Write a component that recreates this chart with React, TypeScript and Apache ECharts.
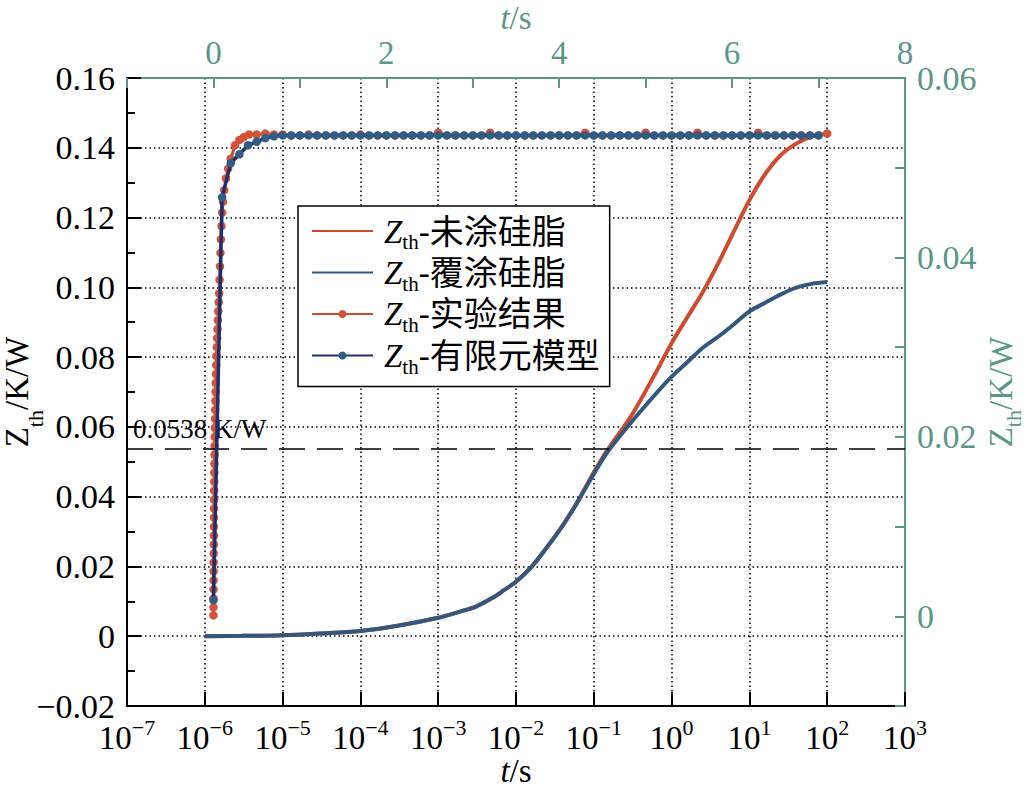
import React, { useEffect, useRef } from 'react';
import * as echarts from 'echarts';

// ---------- data ----------
// bottom log-time axis (s) / left axis (K/W)
const logTime = [1e-6, 3e-6, 1e-5, 3e-5, 1e-4, 3e-4, 1e-3, 2e-3, 3e-3, 5e-3, 7e-3, 1e-2, 1.6e-2, 2.5e-2, 4e-2, 6e-2, 0.1, 0.15, 0.3, 0.6, 1, 1.6, 2.5, 4, 6, 10, 16, 25, 40, 63, 100];
const zthUncoated = [0, 0.0001, 0.0003, 0.0008, 0.0015, 0.003, 0.0053, 0.0072, 0.0084, 0.011, 0.0132, 0.0156, 0.02, 0.0255, 0.0318, 0.038, 0.047, 0.0534, 0.063, 0.0748, 0.084, 0.0915, 0.0985, 0.107, 0.115, 0.125, 0.1325, 0.1378, 0.1412, 0.1432, 0.144];
const zthCoated = [0, 0.0001, 0.0003, 0.0008, 0.0015, 0.003, 0.0053, 0.0072, 0.0084, 0.011, 0.0132, 0.0156, 0.02, 0.0255, 0.0318, 0.038, 0.0465, 0.0528, 0.0612, 0.069, 0.0744, 0.0786, 0.0826, 0.0859, 0.089, 0.0931, 0.0956, 0.0979, 0.0999, 0.101, 0.1015];

// top linear-time axis (s) / right axis (K/W)
const expTime = [0, 0.0004, 0.0008, 0.0012, 0.0017, 0.0022, 0.0028, 0.0034, 0.004, 0.0047, 0.0054, 0.0062, 0.007, 0.0078, 0.0087, 0.0096, 0.0105, 0.0115, 0.0125, 0.0136, 0.015, 0.0165, 0.0182, 0.02, 0.022, 0.0242, 0.0265, 0.029, 0.032, 0.0355, 0.039, 0.043, 0.047, 0.0515, 0.056, 0.061, 0.066, 0.071, 0.076, 0.081, 0.086, 0.093, 0.101, 0.11, 0.125, 0.145, 0.17, 0.2, 0.25, 0.3, 0.35, 0.41,
  0.5, 0.6, 0.7, 0.8, 0.9, 1.0, 1.1, 1.2, 1.3, 1.4, 1.5, 1.6, 1.7, 1.8, 1.9, 2.0, 2.1, 2.2, 2.3, 2.4, 2.5, 2.6, 2.7, 2.8, 2.9, 3.0, 3.1, 3.2, 3.3, 3.4, 3.5, 3.6, 3.7, 3.8, 3.9, 4.0, 4.1, 4.2, 4.3, 4.4, 4.5, 4.6, 4.7, 4.8, 4.9, 5.0, 5.1, 5.2, 5.3, 5.4, 5.5, 5.6, 5.7, 5.8, 5.9, 6.0, 6.1, 6.2, 6.3, 6.4, 6.5, 6.6, 6.7, 6.8, 6.9, 7.0, 7.1];
const expZth = [0.0001, 0.001, 0.002, 0.003, 0.004, 0.005, 0.006, 0.007, 0.008, 0.009, 0.01, 0.011, 0.012, 0.013, 0.014, 0.015, 0.016, 0.017, 0.018, 0.019, 0.02, 0.021, 0.022, 0.023, 0.024, 0.025, 0.026, 0.027, 0.028, 0.029, 0.03, 0.031, 0.032, 0.033, 0.034, 0.035, 0.036, 0.0375, 0.039, 0.0405, 0.042, 0.0435, 0.045, 0.0462, 0.0475, 0.0488, 0.0499, 0.051, 0.0525, 0.0531, 0.0534, 0.0537,
  0.0537, 0.0538, 0.0537, 0.0537, 0.0536, 0.0536, 0.0537, 0.0536, 0.0536, 0.0536, 0.0536, 0.0536, 0.0537, 0.0536, 0.0536, 0.0536, 0.0536, 0.0536, 0.0536, 0.0536, 0.0536, 0.0539, 0.0536, 0.0536, 0.0536, 0.0536, 0.0536, 0.0539, 0.0536, 0.0536, 0.0536, 0.0536, 0.0536, 0.0536, 0.0536, 0.0536, 0.0536, 0.0536, 0.0539, 0.0536, 0.0536, 0.0536, 0.0536, 0.0536, 0.0536, 0.0539, 0.0536, 0.0536, 0.0536, 0.0536, 0.0536, 0.0539, 0.0536, 0.0536, 0.0536, 0.0536, 0.0536, 0.0536, 0.0539, 0.0536, 0.0536, 0.0536, 0.0536, 0.0536, 0.0536, 0.0536, 0.0538];
const femTime = [0, 0.1, 0.2, 0.3, 0.4, 0.5, 0.6, 0.7, 0.8, 0.9, 1.0, 1.1, 1.2, 1.3, 1.4, 1.5, 1.6, 1.7, 1.8, 1.9, 2.0, 2.1, 2.2, 2.3, 2.4, 2.5, 2.6, 2.7, 2.8, 2.9, 3.0, 3.1, 3.2, 3.3, 3.4, 3.5, 3.6, 3.7, 3.8, 3.9, 4.0, 4.1, 4.2, 4.3, 4.4, 4.5, 4.6, 4.7, 4.8, 4.9, 5.0, 5.1, 5.2, 5.3, 5.4, 5.5, 5.6, 5.7, 5.8, 5.9, 6.0, 6.1, 6.2, 6.3, 6.4, 6.5, 6.6, 6.7, 6.8, 6.9, 7.0];
const femZth = [0.0018, 0.0467, 0.0505, 0.0515, 0.0525, 0.0529, 0.0533, 0.0535, 0.0536, 0.0536, 0.0536, 0.0536, 0.0536, 0.0536, 0.0536, 0.0536, 0.0536, 0.0536, 0.0536, 0.0536, 0.0536, 0.0536, 0.0536, 0.0536, 0.0536, 0.0536, 0.0536, 0.0536, 0.0536, 0.0536, 0.0536, 0.0536, 0.0536, 0.0536, 0.0536, 0.0536, 0.0536, 0.0536, 0.0536, 0.0536, 0.0536, 0.0536, 0.0536, 0.0536, 0.0536, 0.0536, 0.0536, 0.0536, 0.0536, 0.0536, 0.0536, 0.0536, 0.0536, 0.0536, 0.0536, 0.0536, 0.0536, 0.0536, 0.0536, 0.0536, 0.0536, 0.0536, 0.0536, 0.0536, 0.0536, 0.0536, 0.0536, 0.0536, 0.0536, 0.0536, 0.0536];

const steadyValue = 0.0538;
const seriesNames = ['Zth-未涂硅脂', 'Zth-覆涂硅脂', 'Zth-实验结果', 'Zth-有限元模型'];

// ---------- style ----------
const SERIF = '"Liberation Serif", "Times New Roman", "Noto Sans CJK SC", serif';
const TEAL = '#5a9788';
const RED = '#cf4b30';
const BLUE = '#33587e';
const DOT_BLUE = '#2f5d86';
const NAVY = '#1d2f6c';

const fmtLeft = (v: number) => {
  const r = Math.round(v * 100);
  if (r === 0) return '0';
  return r < 0 ? '\u2212' + (-r / 100).toFixed(2) : (r / 100).toFixed(2);
};
const fmtRight = (v: number) => {
  const r = Math.round(v * 100);
  if (r < 0 || r % 2 !== 0) return '';
  return r === 0 ? '0' : (r / 100).toFixed(2);
};
const fmtLog = (v: number) => {
  const e = Math.round(Math.log10(v));
  return `{b|10}{s|${e < 0 ? '\u2212' + -e : e}}`;
};

const zthRich = (color: string, subPad: number) => ({
  z: { fontFamily: SERIF, fontSize: 33, lineHeight: 32, verticalAlign: 'top', color },
  s: { fontFamily: SERIF, fontSize: 22, lineHeight: 21, verticalAlign: 'top', padding: [subPad, 0, 0, 0], color },
  n: { fontFamily: SERIF, fontSize: 33, lineHeight: 32, verticalAlign: 'top', color },
});
const tsRich = (color: string, lh: number) => ({
  i: { fontFamily: SERIF, fontStyle: 'italic', fontSize: 33, lineHeight: lh, color },
  n: { fontFamily: SERIF, fontSize: 33, lineHeight: lh, color },
});

function buildOption() {
  return {
    animation: false,
    backgroundColor: '#ffffff',
    grid: { left: 127, top: 78, width: 778, height: 628, containLabel: false, outerBoundsMode: 'none' },
    legend: {
      data: [
        { name: seriesNames[0], itemStyle: { opacity: 0 } },
        { name: seriesNames[1], itemStyle: { opacity: 0 } },
        { name: seriesNames[2] },
        { name: seriesNames[3] },
      ],
      orient: 'vertical',
      left: 298,
      top: 206,
      itemWidth: 61,
      itemHeight: 10,
      itemGap: -1.5,
      padding: [9, 10, 4, 13],
      backgroundColor: '#ffffff',
      borderColor: '#000000',
      borderWidth: 1.5,
      borderRadius: 0,
      formatter: (name: string) => `{z|Z}{s|th}{h|-}{t|${name.slice(4)}}`,
      textStyle: {
        rich: {
          z: { fontFamily: SERIF, fontStyle: 'italic', fontSize: 33, lineHeight: 32, verticalAlign: 'top', padding: [0, 0, 0, 6], color: '#000' },
          s: { fontFamily: SERIF, fontSize: 21, lineHeight: 21, verticalAlign: 'top', padding: [17, 0, 5, 0], color: '#000' },
          h: { fontFamily: SERIF, fontSize: 33, lineHeight: 32, verticalAlign: 'top', color: '#000' },
          t: { fontFamily: SERIF, fontSize: 34, lineHeight: 32, verticalAlign: 'top', color: '#000' },
        },
      },
    },
    xAxis: [
      {
        type: 'log',
        logBase: 10,
        min: 1e-7,
        max: 1e3,
        interval: 1,
        position: 'bottom',
        axisLine: { show: true, onZero: false, lineStyle: { color: '#000', width: 2 } },
        axisTick: { show: true, inside: true, length: 14, lineStyle: { color: '#000', width: 2 } },
        minorTick: { show: false },
        axisLabel: {
          margin: 10,
          formatter: fmtLog,
          rich: {
            b: { fontFamily: SERIF, fontSize: 33, lineHeight: 32, verticalAlign: 'top', padding: [5, 0, 0, 0], color: '#000' },
            s: { fontFamily: SERIF, fontSize: 22, lineHeight: 22, verticalAlign: 'top', color: '#000' },
          },
        },
        splitLine: { show: true, showMinLine: false, showMaxLine: false, lineStyle: { color: '#000', width: 1.5, type: [1.5, 3] } },
        name: '{i|t}{n|/s}',
        nameLocation: 'middle',
        nameGap: 48,
        nameMoveOverlap: false,
        nameTextStyle: { rich: tsRich('#000', 34) },
      },
      {
        type: 'value',
        min: -1,
        max: 8,
        interval: 1,
        position: 'top',
        axisLine: { show: true, onZero: false, lineStyle: { color: TEAL, width: 2 } },
        axisTick: { show: true, inside: true, length: 10, lineStyle: { color: TEAL, width: 2 } },
        axisLabel: {
          margin: 10,
          color: TEAL,
          fontFamily: SERIF,
          fontSize: 33,
          lineHeight: 30,
          formatter: (v: number) => (v >= 0 && Math.round(v) % 2 === 0 ? String(Math.round(v)) : ''),
        },
        splitLine: { show: false },
        name: '{i|t}{n|/s}',
        nameLocation: 'middle',
        nameGap: 44,
        nameMoveOverlap: false,
        nameTextStyle: { rich: tsRich(TEAL, 32) },
      },
    ],
    yAxis: [
      {
        type: 'value',
        min: -0.02,
        max: 0.16,
        interval: 0.02,
        position: 'left',
        axisLine: { show: true, onZero: false, lineStyle: { color: '#000', width: 2 } },
        axisTick: { show: true, inside: true, length: 14, lineStyle: { color: '#000', width: 2 } },
        minorTick: { show: true, splitNumber: 2, length: 8, lineStyle: { color: '#000', width: 2 } },
        axisLabel: { margin: 12, color: '#000', fontFamily: SERIF, fontSize: 34, formatter: fmtLeft },
        splitLine: { show: true, showMinLine: false, showMaxLine: false, lineStyle: { color: '#000', width: 1.5, type: [1.5, 3] } },
        name: '{z|Z}{s|th}{n|/K/W}',
        nameLocation: 'middle',
        nameRotate: 90,
        nameGap: 95,
        nameMoveOverlap: false,
        nameTextStyle: { rich: zthRich('#000', 24) },
      },
      {
        type: 'value',
        min: -0.01,
        max: 0.06,
        interval: 0.01,
        position: 'right',
        axisLine: { show: true, onZero: false, lineStyle: { color: TEAL, width: 2 } },
        axisTick: { show: true, inside: true, length: 10, lineStyle: { color: TEAL, width: 2 } },
        axisLabel: { margin: 12, color: TEAL, fontFamily: SERIF, fontSize: 34, formatter: fmtRight },
        splitLine: { show: false },
        name: '{z|Z}{s|th}{n|/K/W}',
        nameLocation: 'middle',
        nameRotate: 90,
        nameGap: 79,
        nameMoveOverlap: false,
        nameTextStyle: { rich: zthRich(TEAL, 18) },
      },
    ],
    series: [
      {
        name: seriesNames[0],
        type: 'line',
        xAxisIndex: 0,
        yAxisIndex: 0,
        data: logTime.map((t, i) => [t, zthUncoated[i]]),
        symbol: 'none',
        smooth: 0.3,
        color: RED,
        lineStyle: { color: RED, width: 4 },
        z: 2,
        markLine: {
          silent: true,
          precision: 4,
          symbol: ['none', 'none'],
          lineStyle: { color: '#000', width: 1.5, type: [26, 12] },
          label: {
            show: true,
            position: 'insideStartTop',
            distance: [6, 6],
            formatter: '0.0538 K/W',
            color: '#000',
            fontFamily: SERIF,
            fontSize: 27,
          },
          data: [{ yAxis: steadyValue }],
        },
      },
      {
        name: seriesNames[1],
        type: 'line',
        xAxisIndex: 0,
        yAxisIndex: 0,
        data: logTime.map((t, i) => [t, zthCoated[i]]),
        symbol: 'none',
        smooth: 0.3,
        color: BLUE,
        lineStyle: { color: BLUE, width: 4 },
        z: 3,
      },
      {
        name: seriesNames[2],
        type: 'line',
        xAxisIndex: 1,
        yAxisIndex: 1,
        data: expTime.map((t, i) => [t, expZth[i]]),
        symbol: 'circle',
        symbolSize: 8.5,
        showSymbol: true,
        color: RED,
        itemStyle: { color: '#d2533a' },
        lineStyle: { color: RED, width: 3 },
        z: 4,
      },
      {
        name: seriesNames[3],
        type: 'line',
        xAxisIndex: 1,
        yAxisIndex: 1,
        data: femTime.map((t, i) => [t, femZth[i]]),
        symbol: 'circle',
        symbolSize: 8.5,
        showSymbol: true,
        color: DOT_BLUE,
        itemStyle: { color: DOT_BLUE },
        lineStyle: { color: NAVY, width: 3.5 },
        z: 5,
      },
    ],
  };
}

export default function App() {
  const ref = useRef<HTMLDivElement>(null);
  useEffect(() => {
    if (!ref.current) return;
    const chart = echarts.init(ref.current, null, { renderer: 'svg' });
    chart.setOption(buildOption() as any);
    return () => chart.dispose();
  }, []);
  return (
    <div
      ref={ref}
      style={{ position: 'fixed', left: 0, top: 0, width: 1027, height: 793, background: '#fff' }}
    />
  );
}
